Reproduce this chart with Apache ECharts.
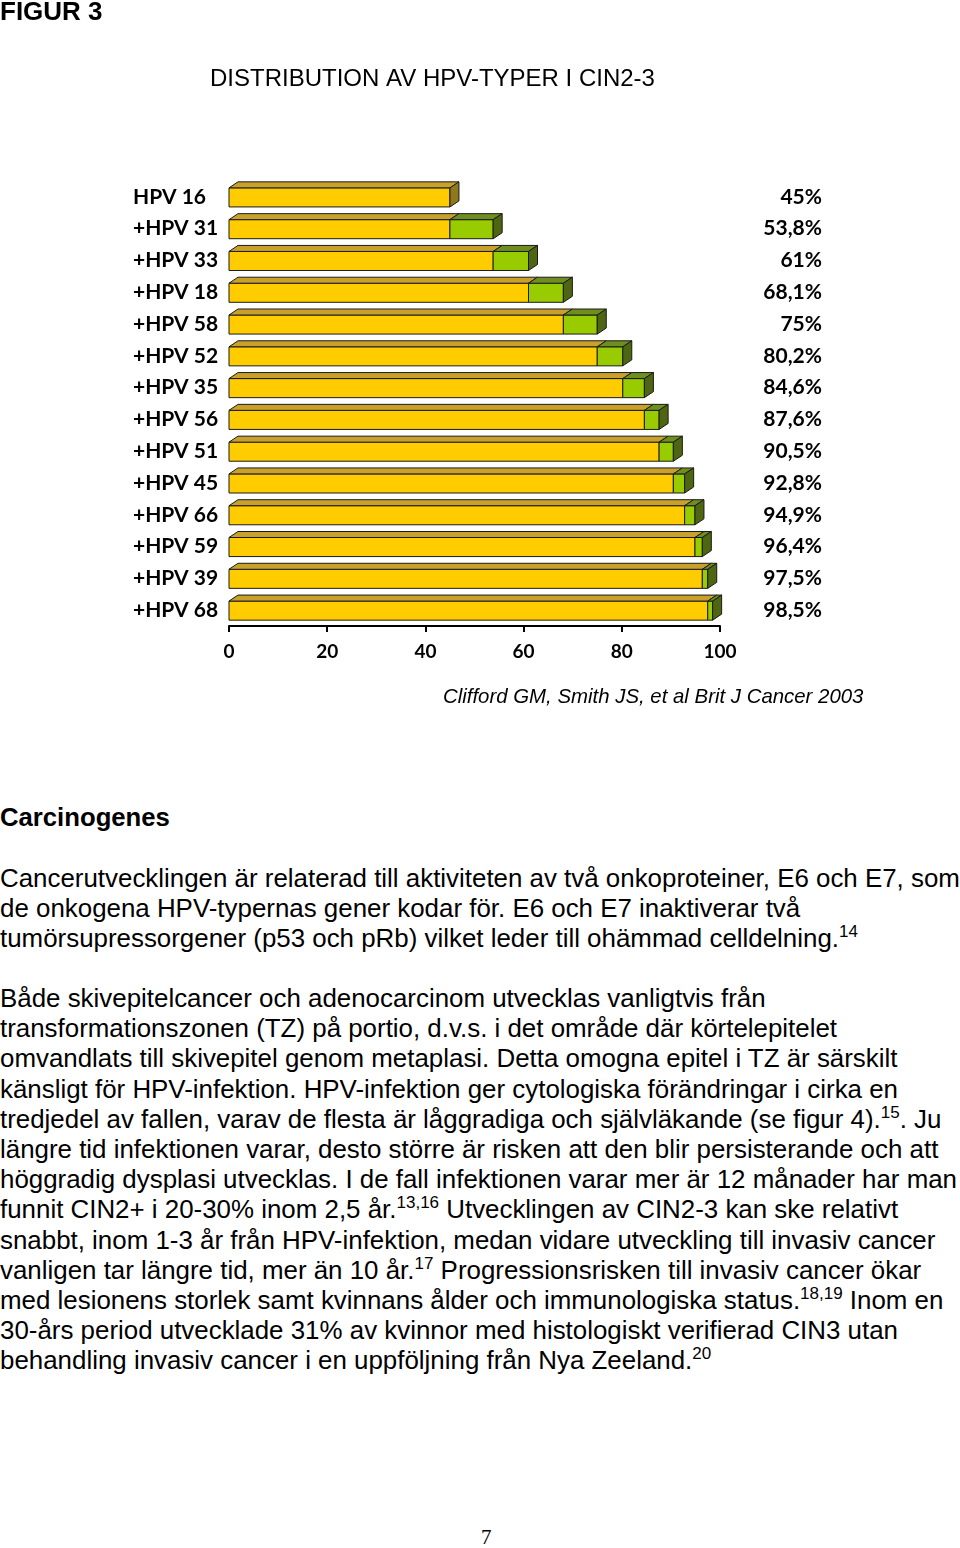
<!DOCTYPE html>
<html>
<head>
<meta charset="utf-8">
<script src="https://cdn.jsdelivr.net/npm/echarts@6/dist/echarts.min.js"></script>
<style>
html,body{margin:0;padding:0;background:#fff;}
#page{position:relative;width:960px;height:1548px;overflow:hidden;}
#chart{position:absolute;left:0;top:0;width:960px;height:730px;}
.txt{position:absolute;left:0;font-family:'Liberation Sans',Arial,sans-serif;color:#000;white-space:nowrap;}
.body{font-size:25.9px;line-height:30.2px;}
.body sup{font-size:17px;line-height:0;vertical-align:10px;}
</style>
</head>
<body>
<div id="page">
<div id="chart"></div>
<div class="txt" style="top:803px;font-size:25.7px;font-weight:bold;">Carcinogenes</div>
<div class="txt body" style="top:863px;">
Cancerutvecklingen är relaterad till aktiviteten av två onkoproteiner, E6 och E7, som<br>
de onkogena HPV-typernas gener kodar för. E6 och E7 inaktiverar två<br>
tumörsupressorgener (p53 och pRb) vilket leder till ohämmad celldelning.<sup>14</sup>
</div>
<div class="txt body" style="top:983px;">
Både skivepitelcancer och adenocarcinom utvecklas vanligtvis från<br>
transformationszonen (TZ) på portio, d.v.s. i det område där körtelepitelet<br>
omvandlats till skivepitel genom metaplasi. Detta omogna epitel i TZ är särskilt<br>
känsligt för HPV-infektion. HPV-infektion ger cytologiska förändringar i cirka en<br>
tredjedel av fallen, varav de flesta är låggradiga och självläkande (se figur 4).<sup>15</sup>. Ju<br>
längre tid infektionen varar, desto större är risken att den blir persisterande och att<br>
höggradig dysplasi utvecklas. I de fall infektionen varar mer är 12 månader har man<br>
funnit CIN2+ i 20-30% inom 2,5 år.<sup>13,16</sup> Utvecklingen av CIN2-3 kan ske relativt<br>
snabbt, inom 1-3 år från HPV-infektion, medan vidare utveckling till invasiv cancer<br>
vanligen tar längre tid, mer än 10 år.<sup>17</sup> Progressionsrisken till invasiv cancer ökar<br>
med lesionens storlek samt kvinnans ålder och immunologiska status.<sup>18,19</sup> Inom en<br>
30-års period utvecklade 31% av kvinnor med histologiskt verifierad CIN3 utan<br>
behandling invasiv cancer i en uppföljning från Nya Zeeland.<sup>20</sup>
</div>
<div class="txt" style="left:481px;top:1525px;font-family:'Liberation Serif',serif;font-size:21px;">7</div>
</div>
<script>
const categories = ['HPV 16','+HPV 31','+HPV 33','+HPV 18','+HPV 58','+HPV 52','+HPV 35','+HPV 56','+HPV 51','+HPV 45','+HPV 66','+HPV 59','+HPV 39','+HPV 68'];
const cumulative = [45, 53.8, 61, 68.1, 75, 80.2, 84.6, 87.6, 90.5, 92.8, 94.9, 96.4, 97.5, 98.5];
const percentLabels = ['45%','53,8%','61%','68,1%','75%','80,2%','84,6%','87,6%','90,5%','92,8%','94,9%','96,4%','97,5%','98,5%'];
const xMin = 0, xMax = 100, xStep = 20;

const barData = categories.map((c, i) => [i, i === 0 ? 0 : cumulative[i - 1], cumulative[i]]);

const YEL = {front:'#FFCC00', top:'#C9A12A', side:'#8E7A1C'};
const GRN = {front:'#99CC00', top:'#6E8F1E', side:'#4E6612'};
const DX = 9, DY = 6;
const LS = {stroke:'#1a1a1a', lineWidth:1};

function box(x1, x2, yTop, h, c, withSide) {
  const yb = yTop + h;
  const out = [
    {type:'polygon', shape:{points:[[x1,yTop],[x2,yTop],[x2,yb],[x1,yb]]}, style:Object.assign({fill:c.front}, LS)},
    {type:'polygon', shape:{points:[[x1,yTop],[x1+DX,yTop-DY],[x2+DX,yTop-DY],[x2,yTop]]}, style:Object.assign({fill:c.top}, LS)}
  ];
  if (withSide) out.push({type:'polygon', shape:{points:[[x2,yTop],[x2+DX,yTop-DY],[x2+DX,yb-DY],[x2,yb]]}, style:Object.assign({fill:c.side}, LS)});
  return out;
}

function renderItem(params, api) {
  const idx = api.value(0), prev = api.value(1), tot = api.value(2);
  const band = api.size([0, 1])[1];
  const h = band * 0.6;
  const c0 = api.coord([0, idx]);
  const yTop = c0[1] - h / 2 + 0.5;
  const x0 = c0[0];
  const xp = api.coord([prev, idx])[0];
  const xt = api.coord([tot, idx])[0];
  let children = [];
  if (prev > 0) {
    children = children.concat(box(x0, xp, yTop, h, YEL, false));
    children = children.concat(box(xp, xt, yTop, h, GRN, true));
  } else {
    children = children.concat(box(x0, xt, yTop, h, YEL, true));
  }
  return {type:'group', children};
}

const LBL = {fontFamily:'Lato, "DejaVu Sans", sans-serif', fontWeight:'bold', color:'#000'};

const chart = echarts.init(document.getElementById('chart'), null, {renderer:'canvas'});
chart.setOption({
  animation:false,
  backgroundColor:'#fff',
  graphic:[
    {type:'text', left:0, top:0, style:{text:'FIGUR 3', font:'bold 26px "Liberation Sans", Arial, sans-serif', fill:'#000'}},
    {type:'text', left:210, top:67, style:{text:'DISTRIBUTION AV HPV-TYPER I CIN2-3', font:'24px "Liberation Sans", Arial, sans-serif', fill:'#000'}},
    {type:'text', left:443, top:687, style:{text:'Clifford GM, Smith JS, et al Brit J Cancer 2003', font:'italic 20.4px "Liberation Sans", Arial, sans-serif', fill:'#000'}}
  ],
  grid:{left:229, top:181, width:491, height:445, containLabel:false},
  xAxis:{type:'value', min:xMin, max:xMax, interval:xStep,
    axisLine:{show:true, lineStyle:{color:'#000', width:2}},
    axisTick:{show:true, length:6, lineStyle:{color:'#000', width:2}},
    splitLine:{show:false},
    axisLabel:Object.assign({fontSize:19, margin:16}, LBL)},
  yAxis:[
    {type:'category', data:categories, inverse:true,
      axisLine:{show:false}, axisTick:{show:false},
      axisLabel:Object.assign({fontSize:21, align:'left', margin:96}, LBL)},
    {type:'category', data:percentLabels, inverse:true, position:'right',
      axisLine:{show:false}, axisTick:{show:false},
      axisLabel:Object.assign({fontSize:21, align:'right', margin:102}, LBL)}
  ],
  series:[{type:'custom', renderItem, yAxisIndex:0, data:barData, encode:{x:[1,2], y:0}}]
});
</script>
</body>
</html>
